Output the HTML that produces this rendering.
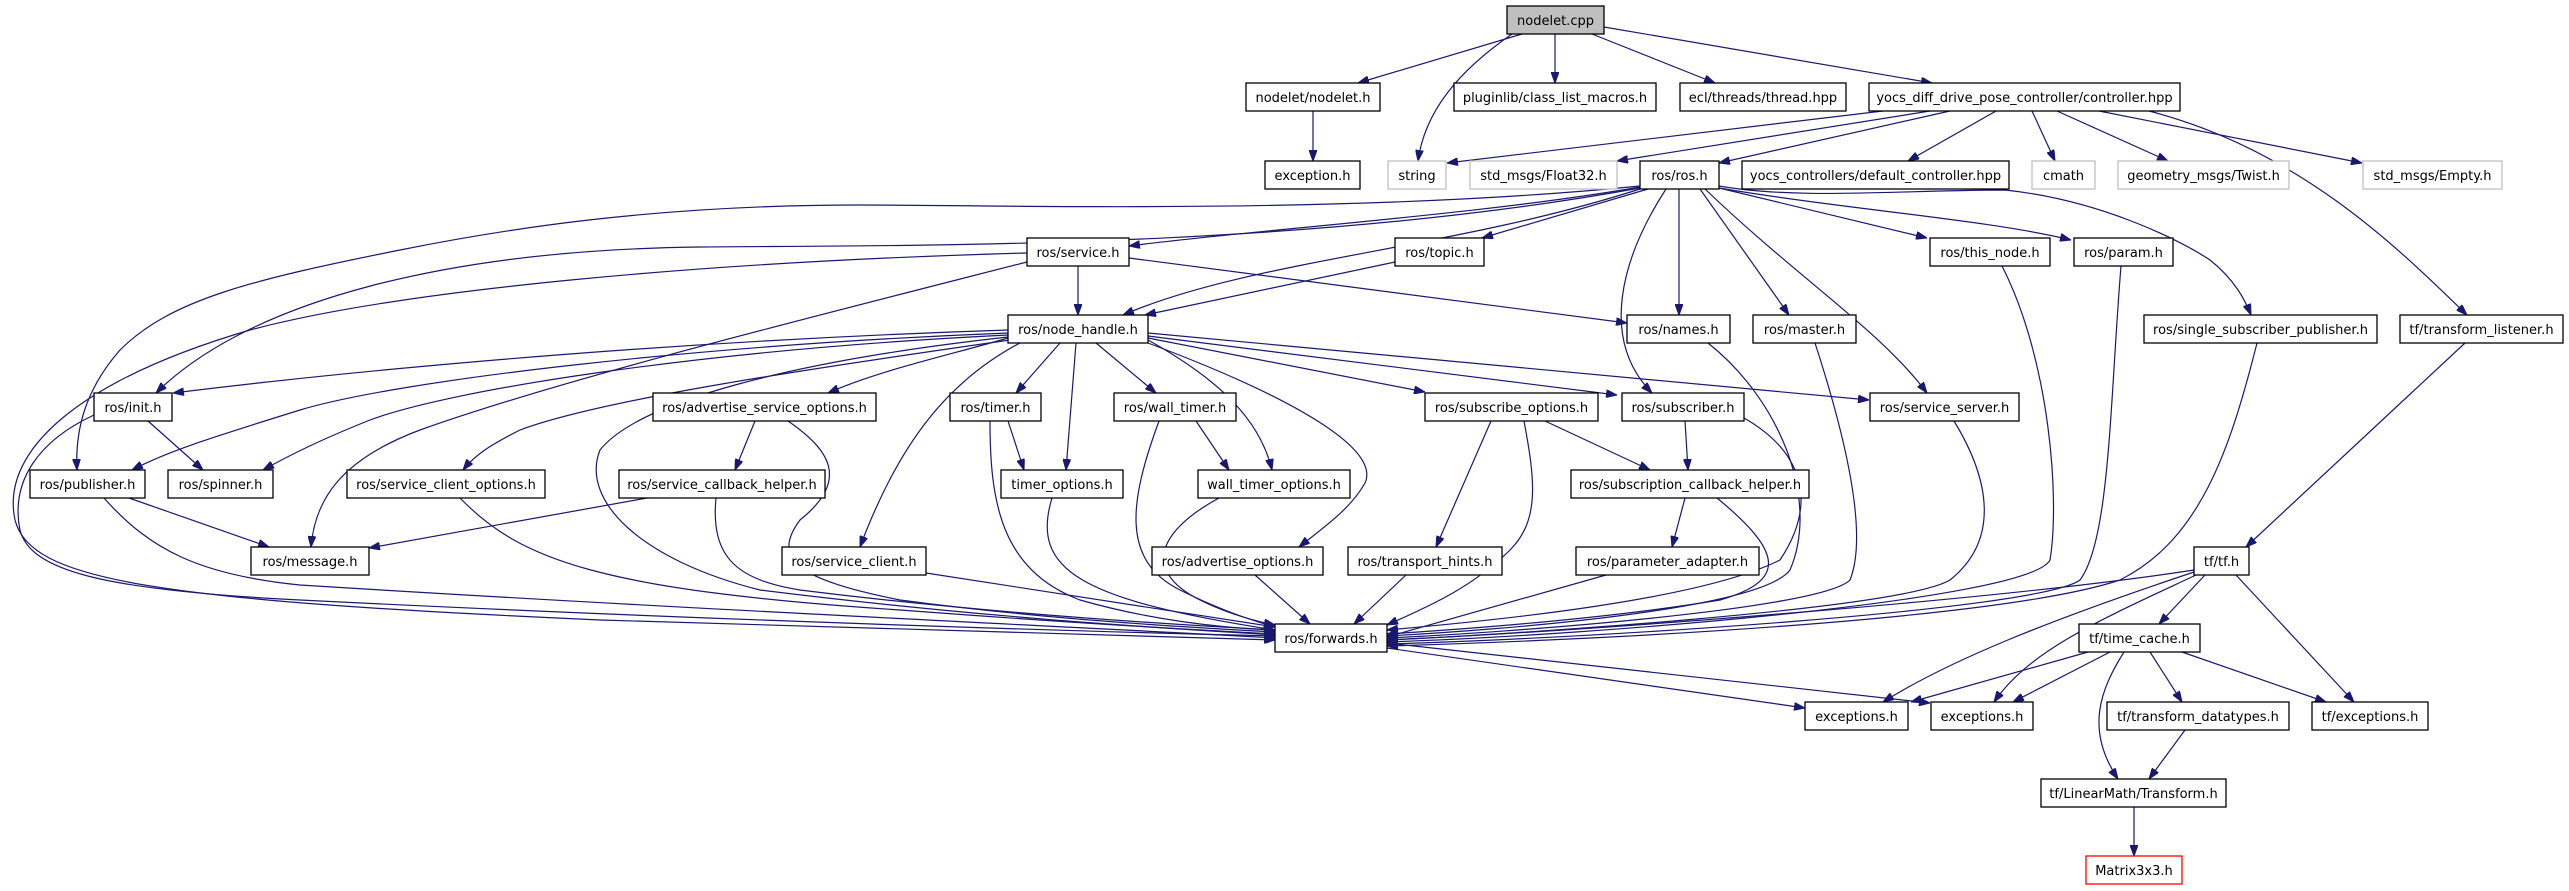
<!DOCTYPE html>
<html><head><meta charset="utf-8"><style>
html,body{margin:0;padding:0;background:#fff;}
svg{display:block;}
.e{fill:none;stroke:#191970;stroke-width:1.2;marker-end:url(#ah);}
.n rect{fill:#fff;stroke:#000;stroke-width:1.3;}
.g rect{fill:#fff;stroke:#bfbfbf;stroke-width:1.3;}
text{font-family:"DejaVu Sans","Liberation Sans",sans-serif;font-size:13px;fill:#000;text-anchor:middle;}
</style></head><body>
<svg width="2569" height="891" viewBox="0 0 2569 891" xmlns="http://www.w3.org/2000/svg">
<defs><marker id="ah" markerUnits="userSpaceOnUse" markerWidth="11" markerHeight="8" refX="11" refY="4" orient="auto"><path d="M0,0 L11,4 L0,8 z" fill="#191970" stroke="#191970"/></marker></defs>
<g>
<path class="e" d="M1522,34 L1358,83"/>
<path class="e" d="M1512,34 C1460,70 1425,110 1418,161"/>
<path class="e" d="M1555,34 L1555,83"/>
<path class="e" d="M1592,34 L1715,83"/>
<path class="e" d="M1604,27 L1932,83"/>
<path class="e" d="M1313,111 L1313,161"/>
<path class="e" d="M1883,111 L1447,163"/>
<path class="e" d="M1930,111 L1617,161"/>
<path class="e" d="M1950,111 L1719,163"/>
<path class="e" d="M1996,111 L1908,161"/>
<path class="e" d="M2032,111 L2055,161"/>
<path class="e" d="M2057,111 L2168,161"/>
<path class="e" d="M2099,111 L2362,163"/>
<path class="e" d="M2149,111 C2300,150 2400,250 2467,315"/>
<path class="e" d="M1640,187 C1480,215 1250,230 1129,246"/>
<path class="e" d="M1648,189 L1482,238"/>
<path class="e" d="M1640,189 C1450,250 1250,260 1123,315"/>
<path class="e" d="M1640,188 C1300,250 900,245 700,247 C450,250 250,300 156,393"/>
<path class="e" d="M1640,186 C1350,215 1000,205 860,205 C650,205 500,230 400,250 C250,280 170,300 120,350 C85,390 75,430 77,470"/>
<path class="e" d="M1666,189 C1620,260 1600,340 1652,393"/>
<path class="e" d="M1679,189 L1679,315"/>
<path class="e" d="M1700,189 L1789,315"/>
<path class="e" d="M1705,189 C1800,280 1880,330 1927,393"/>
<path class="e" d="M1719,188 L1927,238"/>
<path class="e" d="M1719,188 C1850,210 1990,220 2071,240"/>
<path class="e" d="M1719,186 C1800,200 1900,190 2005,190 C2100,200 2180,240 2210,260 C2235,280 2245,300 2251,315"/>
<path class="e" d="M1078,266 L1078,315"/>
<path class="e" d="M1129,258 L1627,323"/>
<path class="e" d="M1395,262 L1145,315"/>
<path class="e" d="M1027,253 C700,262 400,290 250,330 C80,380 0,450 15,520 C30,580 150,600 600,620 C900,630 1150,636 1275,640"/>
<path class="e" d="M1027,262 C800,320 560,380 420,430 C340,460 315,500 311,547"/>
<path class="e" d="M1008,330 C700,340 400,365 173,393"/>
<path class="e" d="M1008,333 C700,345 400,380 300,410 C220,435 170,450 132,470"/>
<path class="e" d="M1008,335 C700,350 450,390 370,420 C320,440 290,455 263,470"/>
<path class="e" d="M1010,340 C800,370 600,400 520,430 C490,445 475,455 463,470"/>
<path class="e" d="M1008,338 C950,355 880,370 828,393"/>
<path class="e" d="M1020,343 C950,380 900,440 860,547"/>
<path class="e" d="M1060,343 L1016,393"/>
<path class="e" d="M1076,343 L1066,470"/>
<path class="e" d="M1096,343 L1156,393"/>
<path class="e" d="M1148,340 C1220,380 1260,420 1272,470"/>
<path class="e" d="M1148,343 C1300,400 1380,450 1365,483 C1350,510 1320,530 1299,547"/>
<path class="e" d="M1148,338 L1425,392"/>
<path class="e" d="M1148,336 L1617,395"/>
<path class="e" d="M1148,333 L1869,400"/>
<path class="e" d="M1008,337 C800,360 640,400 600,450 C580,500 640,560 760,590 C1000,620 1200,630 1275,635"/>
<path class="e" d="M148,421 L203,470"/>
<path class="e" d="M94,415 C40,440 10,480 20,530 C30,570 100,590 300,600 C700,620 1100,632 1275,636"/>
<path class="e" d="M129,498 L269,547"/>
<path class="e" d="M104,498 C150,550 200,575 300,585 C700,610 1100,628 1275,638"/>
<path class="e" d="M755,421 L735,470"/>
<path class="e" d="M788,421 C830,450 850,480 800,520 C770,560 800,580 900,600 C1050,620 1200,628 1275,632"/>
<path class="e" d="M647,498 L369,548"/>
<path class="e" d="M716,498 C710,560 740,580 800,590 C1000,615 1200,626 1275,630"/>
<path class="e" d="M460,498 C520,560 600,590 900,610 C1100,625 1200,630 1275,634"/>
<path class="e" d="M926,573 L1275,627"/>
<path class="e" d="M1008,421 L1024,470"/>
<path class="e" d="M990,421 C990,500 1000,570 1080,600 C1150,620 1220,628 1275,630"/>
<path class="e" d="M1052,498 C1030,570 1080,600 1275,630"/>
<path class="e" d="M1196,421 L1229,470"/>
<path class="e" d="M1159,421 C1130,500 1120,560 1180,590 C1220,610 1250,620 1275,627"/>
<path class="e" d="M1219,498 C1160,530 1140,570 1200,600 C1230,615 1260,622 1275,625"/>
<path class="e" d="M1255,575 L1310,624"/>
<path class="e" d="M1406,575 L1354,624"/>
<path class="e" d="M1491,421 L1436,547"/>
<path class="e" d="M1545,421 L1650,470"/>
<path class="e" d="M1524,421 C1535,480 1540,520 1510,550 C1470,590 1420,610 1387,625"/>
<path class="e" d="M1685,421 L1688,470"/>
<path class="e" d="M1744,418 C1800,450 1820,500 1780,560 C1700,600 1500,620 1387,630"/>
<path class="e" d="M1685,498 L1672,547"/>
<path class="e" d="M1717,498 C1780,550 1790,580 1720,600 C1600,620 1450,630 1387,634"/>
<path class="e" d="M1606,575 L1387,637"/>
<path class="e" d="M1708,343 C1780,400 1820,500 1790,570 C1760,610 1500,630 1387,636"/>
<path class="e" d="M1815,343 C1840,420 1870,530 1850,580 C1820,610 1500,633 1387,638"/>
<path class="e" d="M1954,421 C1990,480 2000,540 1950,580 C1900,610 1500,635 1387,640"/>
<path class="e" d="M2002,266 C2050,360 2060,500 2050,560 C2030,600 1600,635 1387,642"/>
<path class="e" d="M2121,266 C2110,400 2110,540 2080,580 C2040,610 1600,638 1387,644"/>
<path class="e" d="M2257,343 C2230,450 2200,540 2120,580 C2000,620 1600,640 1387,646"/>
<path class="e" d="M2465,343 L2246,547"/>
<path class="e" d="M2194,570 C2000,600 1600,630 1387,640"/>
<path class="e" d="M1387,648 L1805,708"/>
<path class="e" d="M1387,643 L1930,703"/>
<path class="e" d="M2194,572 C2050,620 1950,660 1883,702"/>
<path class="e" d="M2196,575 C2100,620 2030,650 1994,702"/>
<path class="e" d="M2205,575 L2159,624"/>
<path class="e" d="M2236,575 L2354,702"/>
<path class="e" d="M2088,652 L1911,702"/>
<path class="e" d="M2110,652 L2013,702"/>
<path class="e" d="M2124,652 C2100,690 2085,730 2118,779"/>
<path class="e" d="M2150,652 L2182,702"/>
<path class="e" d="M2182,652 L2326,702"/>
<path class="e" d="M2185,730 L2149,779"/>
<path class="e" d="M2134,807 L2134,856"/>
</g>
<g>
<g><rect x="1507" y="6" width="97" height="28" fill="#bfbfbf" stroke="#000" stroke-width="1.3"/><text x="1555.5" y="25">nodelet.cpp</text></g>
<g class="n"><rect x="1246" y="83" width="134" height="28"/><text x="1313" y="102">nodelet/nodelet.h</text></g>
<g class="n"><rect x="1454" y="83" width="202" height="28"/><text x="1555" y="102">pluginlib/class_list_macros.h</text></g>
<g class="n"><rect x="1680" y="83" width="166" height="28"/><text x="1763" y="102">ecl/threads/thread.hpp</text></g>
<g class="n"><rect x="1869" y="83" width="311" height="28"/><text x="2024.5" y="102">yocs_diff_drive_pose_controller/controller.hpp</text></g>
<g class="n"><rect x="1265" y="161" width="95" height="28"/><text x="1312.5" y="180">exception.h</text></g>
<g class="g"><rect x="1388" y="161" width="58" height="28"/><text x="1417" y="180">string</text></g>
<g class="g"><rect x="1470" y="161" width="147" height="28"/><text x="1543.5" y="180">std_msgs/Float32.h</text></g>
<g class="n"><rect x="1640" y="161" width="79" height="28"/><text x="1679.5" y="180">ros/ros.h</text></g>
<g class="n"><rect x="1742" y="161" width="267" height="28"/><text x="1875.5" y="180">yocs_controllers/default_controller.hpp</text></g>
<g class="g"><rect x="2032" y="161" width="63" height="28"/><text x="2063.5" y="180">cmath</text></g>
<g class="g"><rect x="2118" y="161" width="171" height="28"/><text x="2203.5" y="180">geometry_msgs/Twist.h</text></g>
<g class="g"><rect x="2363" y="161" width="139" height="28"/><text x="2432.5" y="180">std_msgs/Empty.h</text></g>
<g class="n"><rect x="1027" y="238" width="102" height="28"/><text x="1078" y="257">ros/service.h</text></g>
<g class="n"><rect x="1395" y="238" width="89" height="28"/><text x="1439.5" y="257">ros/topic.h</text></g>
<g class="n"><rect x="1930" y="238" width="120" height="28"/><text x="1990" y="257">ros/this_node.h</text></g>
<g class="n"><rect x="2074" y="238" width="99" height="28"/><text x="2123.5" y="257">ros/param.h</text></g>
<g class="n"><rect x="1008" y="315" width="140" height="28"/><text x="1078" y="334">ros/node_handle.h</text></g>
<g class="n"><rect x="1627" y="315" width="103" height="28"/><text x="1678.5" y="334">ros/names.h</text></g>
<g class="n"><rect x="1753" y="315" width="103" height="28"/><text x="1804.5" y="334">ros/master.h</text></g>
<g class="n"><rect x="2144" y="315" width="233" height="28"/><text x="2260.5" y="334">ros/single_subscriber_publisher.h</text></g>
<g class="n"><rect x="2400" y="315" width="163" height="28"/><text x="2481.5" y="334">tf/transform_listener.h</text></g>
<g class="n"><rect x="94" y="393" width="78" height="28"/><text x="133" y="412">ros/init.h</text></g>
<g class="n"><rect x="653" y="393" width="223" height="28"/><text x="764.5" y="412">ros/advertise_service_options.h</text></g>
<g class="n"><rect x="950" y="393" width="91" height="28"/><text x="995.5" y="412">ros/timer.h</text></g>
<g class="n"><rect x="1114" y="393" width="122" height="28"/><text x="1175" y="412">ros/wall_timer.h</text></g>
<g class="n"><rect x="1425" y="393" width="173" height="28"/><text x="1511.5" y="412">ros/subscribe_options.h</text></g>
<g class="n"><rect x="1622" y="393" width="122" height="28"/><text x="1683" y="412">ros/subscriber.h</text></g>
<g class="n"><rect x="1870" y="393" width="149" height="28"/><text x="1944.5" y="412">ros/service_server.h</text></g>
<g class="n"><rect x="30" y="470" width="115" height="28"/><text x="87.5" y="489">ros/publisher.h</text></g>
<g class="n"><rect x="168" y="470" width="105" height="28"/><text x="220.5" y="489">ros/spinner.h</text></g>
<g class="n"><rect x="347" y="470" width="198" height="28"/><text x="446" y="489">ros/service_client_options.h</text></g>
<g class="n"><rect x="619" y="470" width="206" height="28"/><text x="722" y="489">ros/service_callback_helper.h</text></g>
<g class="n"><rect x="1001" y="470" width="122" height="28"/><text x="1062" y="489">timer_options.h</text></g>
<g class="n"><rect x="1198" y="470" width="152" height="28"/><text x="1274" y="489">wall_timer_options.h</text></g>
<g class="n"><rect x="1571" y="470" width="238" height="28"/><text x="1690" y="489">ros/subscription_callback_helper.h</text></g>
<g class="n"><rect x="251" y="547" width="118" height="28"/><text x="310" y="566">ros/message.h</text></g>
<g class="n"><rect x="782" y="547" width="144" height="28"/><text x="854" y="566">ros/service_client.h</text></g>
<g class="n"><rect x="1152" y="547" width="171" height="28"/><text x="1237.5" y="566">ros/advertise_options.h</text></g>
<g class="n"><rect x="1348" y="547" width="154" height="28"/><text x="1425" y="566">ros/transport_hints.h</text></g>
<g class="n"><rect x="1576" y="547" width="183" height="28"/><text x="1667.5" y="566">ros/parameter_adapter.h</text></g>
<g class="n"><rect x="2194" y="547" width="55" height="28"/><text x="2221.5" y="566">tf/tf.h</text></g>
<g class="n"><rect x="1275" y="624" width="112" height="28"/><text x="1331" y="643">ros/forwards.h</text></g>
<g class="n"><rect x="2079" y="624" width="121" height="28"/><text x="2139.5" y="643">tf/time_cache.h</text></g>
<g class="n"><rect x="1805" y="702" width="103" height="28"/><text x="1856.5" y="721">exceptions.h</text></g>
<g class="n"><rect x="1931" y="702" width="102" height="28"/><text x="1982" y="721">exceptions.h</text></g>
<g class="n"><rect x="2107" y="702" width="182" height="28"/><text x="2198" y="721">tf/transform_datatypes.h</text></g>
<g class="n"><rect x="2312" y="702" width="116" height="28"/><text x="2370" y="721">tf/exceptions.h</text></g>
<g class="n"><rect x="2041" y="779" width="185" height="28"/><text x="2133.5" y="798">tf/LinearMath/Transform.h</text></g>
<g><rect x="2086" y="856" width="96" height="28" fill="#fff" stroke="#ff0000" stroke-width="1.3"/><text x="2134" y="875">Matrix3x3.h</text></g>
</g>
</svg>
</body></html>
